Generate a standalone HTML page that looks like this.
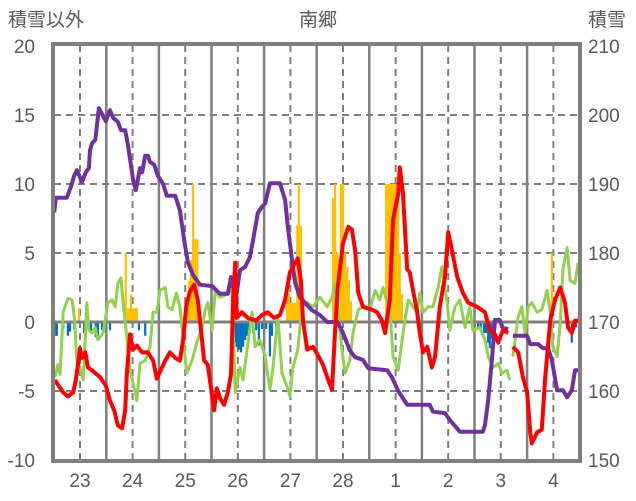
<!DOCTYPE html>
<html><head><meta charset="utf-8"><style>
html,body{margin:0;padding:0;background:#fff;}
svg{display:block;font-family:"Liberation Sans","Noto Sans CJK JP",sans-serif;}
</style></head><body>
<svg id="chart" width="636" height="501" viewBox="0 0 636 501">
<text x="8" y="26" font-size="19" fill="#595959">積雪以外</text>
<text x="318" y="26" font-size="19" fill="#595959" text-anchor="middle">南郷</text>
<text x="588" y="26" font-size="19" fill="#595959">積雪</text>
<g id="grid"></g><g id="bars"></g><g id="lines"></g><g id="frame"></g><g id="ticks"></g>
</svg>
<script>
const dayLabels=["23","24","25","26","27","28","1","2","3","4"];
const leftTicks=[20,15,10,5,0,-5,-10];
const rightTicks=[210,200,190,180,170,160,150];
const orangeT=[-0.02,0.87,0.91,0.95,0.97,1.01,1.05,1.08,2.07,2.11,2.15,2.19,2.23,3.94,3.97,4.01,4.05,4.09,4.13,4.16,4.20,4.24,4.81,4.85,4.89,4.92,4.96,5.00,5.04,5.08,5.11,5.15,5.82,5.86,5.89,5.93,5.97,6.01,6.05,6.08,6.12,8.97];
const orangeV=[1,5,1,1,2,1,1,1,3,4.5,10,6,6,2.1,2.1,1.4,1.4,1.4,7,10,7,1.4,9,10,5,1,10,10,5,4,3,1.5,10,10,10,10,10,10,10,5,2,5];
const blueT=[-0.48,-0.44,-0.32,-0.23,-0.19,-0.11,0.08,0.21,0.30,0.34,0.42,0.57,1.12,1.24,2.95,2.98,3.02,3.06,3.10,3.14,3.17,3.21,3.29,3.35,3.40,3.46,3.54,3.61,3.65,3.73,7.57,7.62,7.68,7.72,7.76,7.79,7.83,7.87,9.35,9.39,9.43];
const blueV=[-1,-1,-0.5,-1,-0.7,-0.5,-0.8,-0.6,-1.1,-1.1,-0.6,-0.6,-0.6,-1,-1.5,-1.8,-2,-2.2,-1.8,-1.3,-1,-1.3,-0.8,-0.6,-1.7,-0.5,-0.5,-2.5,-1,-0.4,-0.5,-0.5,-0.8,-0.8,-1.5,-1.9,-1.2,-0.5,-1.5,-0.4,-0.4];
const purpleT=[-0.49,-0.46,-0.25,-0.17,-0.11,-0.06,0.04,0.11,0.17,0.19,0.23,0.29,0.36,0.40,0.49,0.57,0.63,0.72,0.78,0.86,0.91,1.01,1.06,1.14,1.18,1.24,1.29,1.33,1.41,1.48,1.58,1.65,1.81,1.90,1.98,2.05,2.15,2.28,2.51,2.66,2.81,2.87,2.96,3.04,3.14,3.23,3.29,3.38,3.46,3.52,3.61,3.80,3.90,3.95,4.03,4.09,4.18,4.28,4.41,4.56,4.70,4.90,5.00,5.13,5.23,5.38,5.48,5.84,5.93,6.05,6.22,6.27,6.65,6.71,6.94,7.03,7.22,7.66,7.70,7.76,7.83,7.89,7.98,8.04,8.14,8.18,8.23,8.50,8.56,8.71,8.80,8.90,8.97,9.07,9.13,9.18,9.26,9.35,9.41,9.47];
const purpleV=[185.9,188,188,189.7,191.2,192,190.3,191.7,192.3,194.9,195.9,196.4,201,200.4,199.1,200.7,199.6,199,197.8,197.8,195.7,190.6,189.1,192.3,191.7,194.1,194.1,193.2,192.8,191.2,190,188.3,188.3,186.2,181.9,178.7,176.8,175.4,175.2,174.1,174.1,176.5,173.2,177.5,178,179.4,181.9,185.8,186.7,187.2,190.1,190.1,187.7,183.8,179,175.7,173.6,172.8,171.7,171,170,170,168.4,165.9,164.9,164.5,163.3,163,162,160,158,158,158,157,156.8,155.8,154.1,154.1,155.1,158.7,164.5,170.3,170.3,169.1,169,null,168,168,166.8,166.8,166.2,166.2,164.5,160.1,160.1,160.1,159.1,160.1,163,163];
const redT=[-0.48,-0.32,-0.23,-0.13,-0.08,-0.04,0,0.04,0.10,0.15,0.23,0.38,0.49,0.57,0.65,0.72,0.80,0.86,0.89,0.95,1.01,1.08,1.18,1.29,1.39,1.46,1.52,1.62,1.71,1.81,1.90,1.96,2.02,2.09,2.17,2.24,2.30,2.36,2.43,2.51,2.55,2.60,2.66,2.74,2.81,2.87,2.91,2.95,2.98,3.08,3.19,3.35,3.46,3.57,3.69,3.80,3.90,3.99,4.09,4.14,4.20,4.24,4.32,4.43,4.52,4.62,4.71,4.79,4.85,4.90,5.00,5.10,5.17,5.23,5.29,5.38,5.55,5.65,5.74,5.80,5.89,5.95,6.05,6.08,6.14,6.22,6.27,6.33,6.41,6.46,6.52,6.60,6.69,6.75,6.84,6.94,7.00,7.07,7.17,7.28,7.38,7.55,7.70,7.79,7.89,7.95,8.04,8.14,8.18,8.23,8.33,8.42,8.50,8.56,8.59,8.69,8.78,8.84,8.94,9.03,9.13,9.22,9.28,9.35,9.41,9.47];
const redV=[-4.2,-5.1,-5.4,-5.1,-4.2,-3.1,-1.9,-2.6,-2.2,-3.3,-3.5,-4,-4.6,-5.7,-6.4,-7.5,-7.7,-6.4,-3.8,-0.9,-2,-1.7,-2.2,-2.2,-2.8,-4.1,-3.6,-2.8,-2.2,-2.6,-2.8,-1.3,1.2,2.2,2.7,1.6,-0.6,-2.8,-3.1,-5.3,-6.4,-4.8,-5.5,-6,-5.1,-3.8,1.6,4.3,0.3,0.7,0.3,0.1,0.5,0.7,0.3,0.5,1.6,3.6,4.3,4.6,3,0.1,-2,-1.8,-2.4,-3.1,-4.1,-4.9,-0.6,2.5,5.7,6.9,6.7,5.2,2.1,1.1,0.9,0.7,0.1,-0.8,1.6,7.4,9.3,11.2,9.3,3.8,3.6,2.3,0.7,-0.8,-2.2,-1.8,-3.3,-2.5,1.1,3.3,6.5,5.2,3.3,2.1,1.4,1.1,0.7,-0.6,-0.9,-1.5,-0.6,-0.8,null,-1.8,-2.2,-4,-5.1,-8,-8.8,-8,-7.8,-4.2,0.1,1.6,2.5,1.4,-0.4,-0.8,0.1,0.1];
const greenT=[-0.48,-0.42,-0.38,-0.32,-0.23,-0.15,-0.10,-0.06,0,0.06,0.10,0.13,0.17,0.23,0.29,0.34,0.44,0.53,0.61,0.67,0.72,0.78,0.82,0.89,0.95,1.05,1.08,1.14,1.24,1.33,1.39,1.46,1.52,1.62,1.67,1.75,1.83,1.90,1.96,2.03,2.13,2.22,2.32,2.38,2.43,2.51,2.57,2.66,2.79,2.89,2.95,3.04,3.10,3.17,3.27,3.33,3.42,3.52,3.61,3.67,3.76,3.84,3.94,3.99,4.05,4.14,4.22,4.32,4.43,4.56,4.70,4.79,4.85,4.90,4.98,5.04,5.13,5.19,5.29,5.38,5.51,5.61,5.70,5.76,5.84,5.89,5.95,6.05,6.14,6.24,6.33,6.41,6.46,6.52,6.62,6.71,6.81,6.88,6.98,7.03,7.13,7.22,7.32,7.41,7.47,7.60,7.70,7.76,7.85,7.95,8.02,8.12,8.17,8.20,8.23,8.33,8.40,8.46,8.52,8.59,8.69,8.78,8.88,8.94,8.99,9.07,9.13,9.18,9.26,9.32,9.41,9.47];
const greenV=[-4,-3.1,-3.8,0.7,1.7,1.6,0.1,-2.8,-3.3,-4.2,-1.1,1.4,-0.6,-0.8,-0.4,-1.3,-0.8,1.4,1.6,1.1,2.8,3.2,1.4,-1.1,-3.5,-5.1,-5.7,-3,-2.8,-1.8,0.7,0.7,2.3,2.5,1.1,0.9,2.1,1.1,-1.1,-3.7,-2.8,-1.5,-0.4,0.9,1.4,-0.6,2.2,1.8,2,2.3,-5.1,-3.3,-4.2,-2.2,0.7,-1.8,-1.3,-2.5,-4.9,-3.3,0.4,-3.7,-4.7,-5.4,-3.3,-2,1.1,1.4,1.1,1.8,1.1,1.8,2.8,1.1,-2,-3.7,-2.8,-0.8,0.9,1.1,0.9,2.3,1.6,2.5,1.4,1.1,-2.5,-3.5,-0.8,1.6,1.1,0.7,2.1,0.7,1.1,1.1,2.5,4,1.4,-0.6,1.1,1.6,-0.4,1.1,-0.6,-0.4,-1.3,-2.5,-3.3,-3,-3.7,-3.5,-4.2,null,-2.5,0.4,1.1,-0.8,1.1,1.4,0.7,0.9,2.3,0.7,-1.8,-2.5,-0.1,3.8,5.4,3,2.8,4.3];

const NS='http://www.w3.org/2000/svg';
const L=54,R=579,T=45,B=460,X0=80,DX=52.6;
const xs=t=>X0+t*DX;
const yl=v=>322-v*13.8;
const yr=v=>yl((v-170)/2);
function mk(tag,attrs,parent){const e=document.createElementNS(NS,tag);for(const k in attrs)e.setAttribute(k,attrs[k]);parent.appendChild(e);return e;}
const grid=document.getElementById('grid'),bars=document.getElementById('bars'),lines=document.getElementById('lines'),frame=document.getElementById('frame'),ticks=document.getElementById('ticks');
// horizontal grid
leftTicks.forEach(v=>{
  if(v===20||v===-10||v===0)return;
  const e=mk('line',{x1:L,x2:R,y1:yl(v),y2:yl(v),stroke:'#7f7f7f','stroke-width':2,'stroke-dasharray':'7,5'},grid);
  
  
});
// vertical lines
dayLabels.forEach((d,i)=>{
  const e=mk('line',{x1:xs(i),x2:xs(i),y1:T,y2:B,stroke:'#7f7f7f','stroke-width':2,'stroke-dasharray':'7,5'},grid);
  
  
  if(i<dayLabels.length-1){
    const s=mk('line',{x1:xs(i+0.5),x2:xs(i+0.5),y1:T,y2:B,stroke:'#7f7f7f','stroke-width':2.5},grid);
    
    
  }
  const tx=mk('text',{x:xs(i),y:487,'font-size':19,fill:'#595959','text-anchor':'middle'},ticks);
  tx.textContent=d;
  
  
});
// bars
const bw=2.2;
orangeT.forEach((t,i)=>{
  const v=orangeV[i];
  const r=mk('rect',{x:xs(t)-bw/2,y:yl(v),width:bw,height:yl(0)-yl(v),fill:'#ffc000'},bars);
  
  
});
blueT.forEach((t,i)=>{
  const v=blueV[i];
  const r=mk('rect',{x:xs(t)-bw/2,y:yl(0),width:bw,height:yl(v)-yl(0),fill:'#0070c0'},bars);
  
  
});
// zero line
const z=mk('line',{x1:L,x2:R,y1:yl(0),y2:yl(0),stroke:'#7f7f7f','stroke-width':3},bars);


function path(T_,V_,yf){let d='',pen=false;T_.forEach((t,i)=>{const v=V_[i];if(v===null){pen=false;return;}d+=(pen?'L':'M')+xs(t).toFixed(1)+','+yf(v).toFixed(1);pen=true;});return d;}
const g=mk('path',{d:path(greenT,greenV,yl),fill:'none',stroke:'#92d050','stroke-width':3,'stroke-linejoin':'round'},lines);


const p=mk('path',{d:path(purpleT,purpleV,yr),fill:'none',stroke:'#7030a0','stroke-width':4,'stroke-linejoin':'round'},lines);


const rd=mk('path',{d:path(redT,redV,yl),fill:'none',stroke:'#ff0000','stroke-width':4,'stroke-linejoin':'round'},lines);


// frame
const f=mk('rect',{x:L-1,y:T-1,width:R-L+2,height:B-T+2,fill:'none',stroke:'#7f7f7f','stroke-width':4},frame);


leftTicks.forEach(v=>{
  const e=mk('text',{x:35,y:yl(v)+7,'font-size':19,fill:'#595959','text-anchor':'end'},ticks);
  e.textContent=v;
  
  
});
rightTicks.forEach(v=>{
  const e=mk('text',{x:588,y:yr(v)+7,'font-size':19,fill:'#595959'},ticks);
  e.textContent=v;
  
  
});
</script>
</body></html>
